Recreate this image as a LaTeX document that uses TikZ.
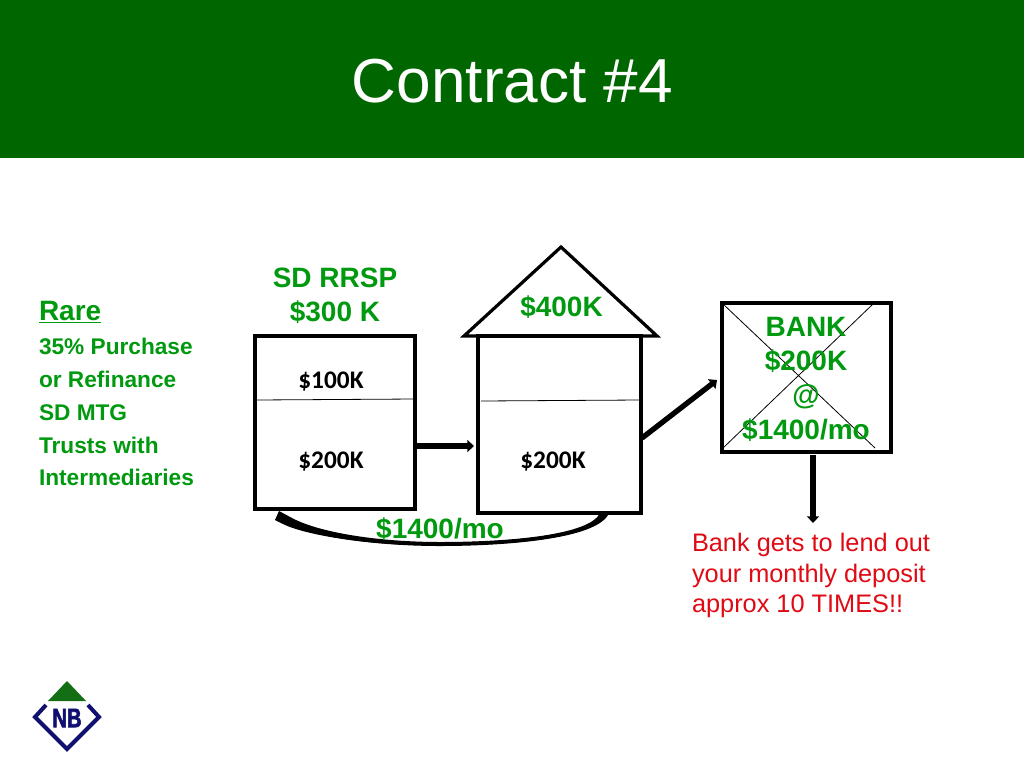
\documentclass[tikz,border=0pt]{standalone}
\usepackage{fontspec}
\setmainfont{Liberation Sans}
\newfontfamily\carl{Carlito}
\newfontfamily\nbf[FakeBold=2.5]{Liberation Sans Bold}
\definecolor{hdr}{RGB}{0,102,0}
\definecolor{txtg}{RGB}{0,153,15}
\definecolor{txtr}{RGB}{224,10,20}
\definecolor{navy}{RGB}{16,16,112}
\definecolor{logog}{RGB}{20,110,20}
\usetikzlibrary{arrows.meta}
\tikzset{
  every node/.style={inner sep=0pt,outer sep=0pt},
  boxy/.style={draw=black,line width=2.4pt,fill=white,line join=miter},
  thin rule/.style={draw=black,line width=0.6pt},
  flow/.style={draw=black,line width=4pt,-{Triangle[length=5pt,width=9pt]}},
  big/.style={text=txtg,font=\fontsize{21}{25.7}\selectfont\bfseries,align=center},
  small/.style={text=black,font=\carl\fontsize{19}{23}\selectfont\bfseries},
  lab/.style={anchor=base west,text=txtg,font=\fontsize{17}{24.75}\selectfont\bfseries},
}
\begin{document}
\begin{tikzpicture}[x=0.75pt,y=-0.75pt]
\useasboundingbox (0,0) rectangle (1024,768);
\fill[white] (0,0) rectangle (1024,768);
\fill[hdr] (0,0) rectangle (1024,158);
\node[text=white,font=\fontsize{46.6}{50}\selectfont] (title) at (512.5,81) {Contract \#4};
% left text
\node[anchor=base west,text=txtg,font=\fontsize{21}{25}\selectfont\bfseries] (rare) at (39,320) {\underline{Rare}};
\node[lab] (n1) at (39,354) {35\% Purchase};
\node[lab] (n2) at (39,387) {or Refinance};
\node[lab] (n3) at (39,420) {SD MTG};
\node[lab] (n4) at (39,453) {Trusts with};
\node[lab] (n5) at (39,485) {Intermediaries};
% RRSP box
\node[big] (rrsp) at (335,296) {SD RRSP\\\$300 K};
\node[boxy,minimum width=120pt,minimum height=129.75pt] (a) at (335,422.5) {};
\draw[thin rule] (256,400) -- (415,399);
\node[small] (a1) at (331,382) {\$100K};
\node[small] (a2) at (331,462) {\$200K};
% house
\draw[boxy] (561,247) -- (657,336) -- (464,336) -- cycle;
\node[boxy,minimum width=122.25pt,minimum height=132.75pt] (b) at (559.5,424.5) {};
\draw[thin rule] (481,401) -- (640,400);
\node[text=txtg,font=\fontsize{21}{25}\selectfont\bfseries] (r1) at (561.5,307) {\$400K};
\node[small] (b2) at (553,462) {\$200K};
% bank
\node[boxy,minimum width=126.75pt,minimum height=111.75pt] (c) at (806.5,377.5) {};
\coordinate (x1) at (723,304); \coordinate (x2) at (875,448);
\coordinate (x3) at (723,448); \coordinate (x4) at (873,304);
\draw[thin rule] (x1) -- (x2);
\draw[thin rule] (x3) -- (x4);
\node[big] (cbig) at (806,379) {BANK\\\$200K\\@\\\$1400/mo};
% arrows
\coordinate (ae) at (474,446); \coordinate (as) at (416,446);
\draw[flow] (as) -- (ae);
\coordinate (bs) at (642,438); \coordinate (be) at (717,380);
\draw[flow] (bs) -- (be);
\coordinate (cs) at (813,455); \coordinate (ce) at (813,523);
\draw[flow] (cs) -- (ce);
% curved arrow
\coordinate (ds) at (605,513); \coordinate (de) at (285,520);
\draw[black,line width=2.2pt] (ds) .. controls (596,538) and (500,544) .. (440,544) .. controls (370,544) and (310,535) .. (de);
\fill[black] (609,513) .. controls (598,540) and (500,546) .. (440,546)
  .. controls (370,546) and (305,535) .. (283,524) -- (275,520) -- (279,511) -- (292,518)
  .. controls (320,533) and (380,542) .. (440,542)
  .. controls (510,542) and (590,535) .. (600,513) -- cycle;
\node[text=txtg,font=\fontsize{21}{25}\selectfont\bfseries] (d) at (440,529) {\$1400/mo};
% red note
\node[anchor=north west,text=txtr,font=\fontsize{19}{22.9}\selectfont,align=left] (note) at (692,533.5) {Bank gets to lend out\\your monthly deposit\\approx 10 TIMES!!};
% logo
\fill[logog] (67,681) -- (86,701) -- (48,701) -- cycle;
\draw[navy,line width=3pt,line join=miter] (46,705) -- (35,717) -- (67,749) -- (99,717) -- (88,705);
\node[text=navy,font=\nbf\fontsize{20}{24}\selectfont] (nb) at (67,718) {\scalebox{0.76}[1]{NB}};
\end{tikzpicture}
\end{document}
